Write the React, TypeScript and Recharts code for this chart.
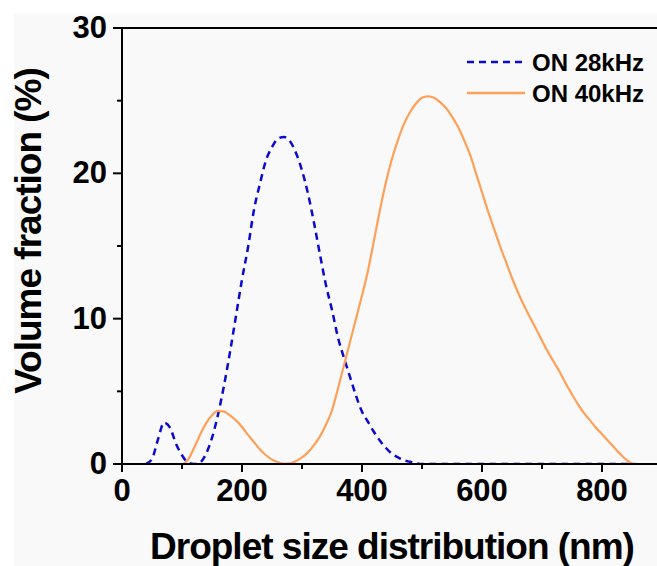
import React from "react";
import { LineChart, Line, XAxis, YAxis, ReferenceLine } from "recharts";

const sizes = [
  0, 10, 20, 30, 40, 50, 60, 70, 80, 90,
  100, 110, 120, 130, 140, 150, 160, 170, 180, 190,
  200, 210, 220, 230, 240, 250, 260, 270, 280, 290,
  300, 310, 320, 330, 340, 350, 360, 370, 380, 390,
  400, 410, 420, 430, 440, 450, 460, 470, 480, 490,
  500, 510, 520, 530, 540, 550, 560, 570, 580, 590,
  600, 610, 620, 630, 640, 650, 660, 670, 680, 690,
  700, 710, 720, 730, 740, 750, 760, 770, 780, 790,
  800, 810, 820, 830, 840, 850, 860, 870, 880, 890,
  900,
];

const on28kHz: (number | null)[] = [
  null, null, null, null, 0, 0.35, 1.7, 2.85, 2.5, 1.4,
  0.6, 0.1, 0, 0.1, 0.7, 1.8, 3.4, 5.4, 7.7, 10.2,
  12.7, 14.9, 17.5, 19.3, 20.9, 21.8, 22.4, 22.5, 22.2, 21.4,
  20.2, 18.6, 16.6, 14.4, 12.3, 10.6, 8.7, 7.3, 6.0, 4.7,
  3.6, 2.9, 2.2, 1.6, 1.1, 0.7, 0.45, 0.25, 0.15, 0.05,
  0, 0, 0, 0, 0, 0, 0, 0, 0, 0,
  0, 0, 0, 0, 0, 0, 0, 0, 0, 0,
  0, 0, 0, 0, 0, 0, 0, 0, 0, 0,
  0, 0, 0, 0, 0, 0, null, null, null, null,
  null,
];

const on40kHz: number[] = [
  0, 0, 0, 0, 0, 0, 0, 0, 0, 0,
  0, 0.3, 1.1, 2.0, 2.8, 3.35, 3.65, 3.6, 3.35, 3.0,
  2.55, 2.0, 1.5, 1.0, 0.6, 0.3, 0.12, 0.03, 0.05, 0.2,
  0.45, 0.8, 1.3, 1.9, 2.7, 3.7, 5.2, 6.8, 8.4, 10.0,
  11.6, 13.3, 15.4, 17.5, 19.4, 21.0, 22.3, 23.4, 24.2, 24.8,
  25.2, 25.3, 25.2, 24.9, 24.5, 23.9, 23.2, 22.3, 21.3, 20.0,
  18.7, 17.4, 16.2, 15.0, 13.9, 12.8, 11.8, 10.9, 10.1, 9.3,
  8.5, 7.7, 7.0, 6.3, 5.5, 4.8, 4.1, 3.5, 3.0, 2.5,
  2.05, 1.6, 1.15, 0.7, 0.3, 0.05, 0, 0, 0, 0,
  0,
];

const xTicks = [0, 100, 200, 300, 400, 500, 600, 700, 800, 900];
const yTicks = [0, 5, 10, 15, 20, 25, 30];
const seriesNames = ["ON 28kHz", "ON 40kHz"];
const xTitle = "Droplet size distribution (nm)";
const yTitle = "Volume fraction (%)";

const FONT = "'Liberation Sans', Arial, Helvetica, sans-serif";
const BLUE = "#0a0ad2";
const ORANGE = "#ffa058";
const seriesColors = [BLUE, ORANGE];
const seriesDash = ["7 5", undefined];

const data = sizes.map((s, i) => ({ size: s, on28: on28kHz[i], on40: on40kHz[i] }));

const YTick = (props: any) => {
  const { x, y, payload } = props;
  const major = payload.value % 10 === 0;
  return (
    <g>
      <line x1={x - (major ? 9 : 5)} x2={x} y1={y} y2={y} stroke="#000" strokeWidth={2} />
      {major && (
        <text x={x - 15} y={y + 10} textAnchor="end" fontFamily={FONT} fontWeight="bold" fontSize={31} fill="#000">
          {payload.value}
        </text>
      )}
    </g>
  );
};

const XTick = (props: any) => {
  const { x, y, payload } = props;
  const major = payload.value % 200 === 0;
  return (
    <g>
      <line x1={x} x2={x} y1={y} y2={y + (major ? 8 : 5)} stroke="#000" strokeWidth={2} />
      {major && payload.value <= 800 && (
        <text x={x} y={y + 37} textAnchor="middle" fontFamily={FONT} fontWeight="bold" fontSize={31} fill="#000">
          {payload.value}
        </text>
      )}
    </g>
  );
};

const ChartLegend = () => (
  <svg width={195} height={70} style={{ position: "absolute", left: 462, top: 45, display: "block" }}>
    {seriesNames.map((name, i) => {
      const cy = 17 + i * 31;
      return (
        <g key={name}>
          <line
            x1={5}
            x2={63}
            y1={cy}
            y2={cy}
            stroke={seriesColors[i]}
            strokeWidth={2.5}
            strokeDasharray={seriesDash[i]}
          />
          <text x={70} y={cy + 8.5} fontFamily={FONT} fontWeight="bold" fontSize={24} fill="#000">
            {name}
          </text>
        </g>
      );
    })}
  </svg>
);

export default function App() {
  return (
    <div
      style={{
        position: "absolute",
        left: 0,
        top: 0,
        width: 657,
        height: 566,
        overflow: "hidden",
        background: "#ffffff",
      }}
    >
      <div
        style={{
          position: "absolute",
          left: 14,
          top: 13,
          width: 643,
          height: 553,
          background: "#f9f9f9",
        }}
      />
      <div style={{ position: "absolute", left: 0, top: 0 }}>
        <LineChart
          width={700}
          height={566}
          data={data}
          margin={{ top: 28, right: 38, bottom: 42, left: 62 }}
        >
          <XAxis
            dataKey="size"
            type="number"
            domain={[0, 900]}
            ticks={xTicks}
            allowDataOverflow
            height={60}
            tickSize={0}
            tickMargin={0}
            tick={<XTick />}
            axisLine={{ stroke: "#000", strokeWidth: 2 }}
            tickLine={false}
            interval={0}
            label={{
              content: () => (
                <text x={392} y={559} textAnchor="middle" fontFamily={FONT} fontWeight="bold" fontSize={37} letterSpacing={-1} fill="#000">
                  {xTitle}
                </text>
              ),
            }}
          />
          <YAxis
            type="number"
            domain={[0, 30]}
            ticks={yTicks}
            allowDataOverflow
            width={60}
            tickSize={0}
            tickMargin={0}
            tick={<YTick />}
            axisLine={{ stroke: "#000", strokeWidth: 2 }}
            tickLine={false}
            interval={0}
            label={{
              content: () => (
                <text
                  transform="translate(41,231) rotate(-90)"
                  x={0}
                  y={0}
                  textAnchor="middle"
                  fontFamily={FONT}
                  fontWeight="bold"
                  fontSize={37}
                  letterSpacing={-1}
                  fill="#000"
                >
                  {yTitle}
                </text>
              ),
            }}
          />
          <ReferenceLine y={30} stroke="#000" strokeWidth={2} />
          <Line
            type="monotone"
            dataKey="on28"
            name={seriesNames[0]}
            stroke={BLUE}
            strokeWidth={2.5}
            strokeDasharray="7 5"
            dot={false}
            activeDot={false}
            connectNulls={false}
            isAnimationActive={false}
          />
          <Line
            type="monotone"
            dataKey="on40"
            name={seriesNames[1]}
            stroke={ORANGE}
            strokeWidth={2.2}
            dot={false}
            activeDot={false}
            isAnimationActive={false}
          />
        </LineChart>
      </div>
      <ChartLegend />
    </div>
  );
}
